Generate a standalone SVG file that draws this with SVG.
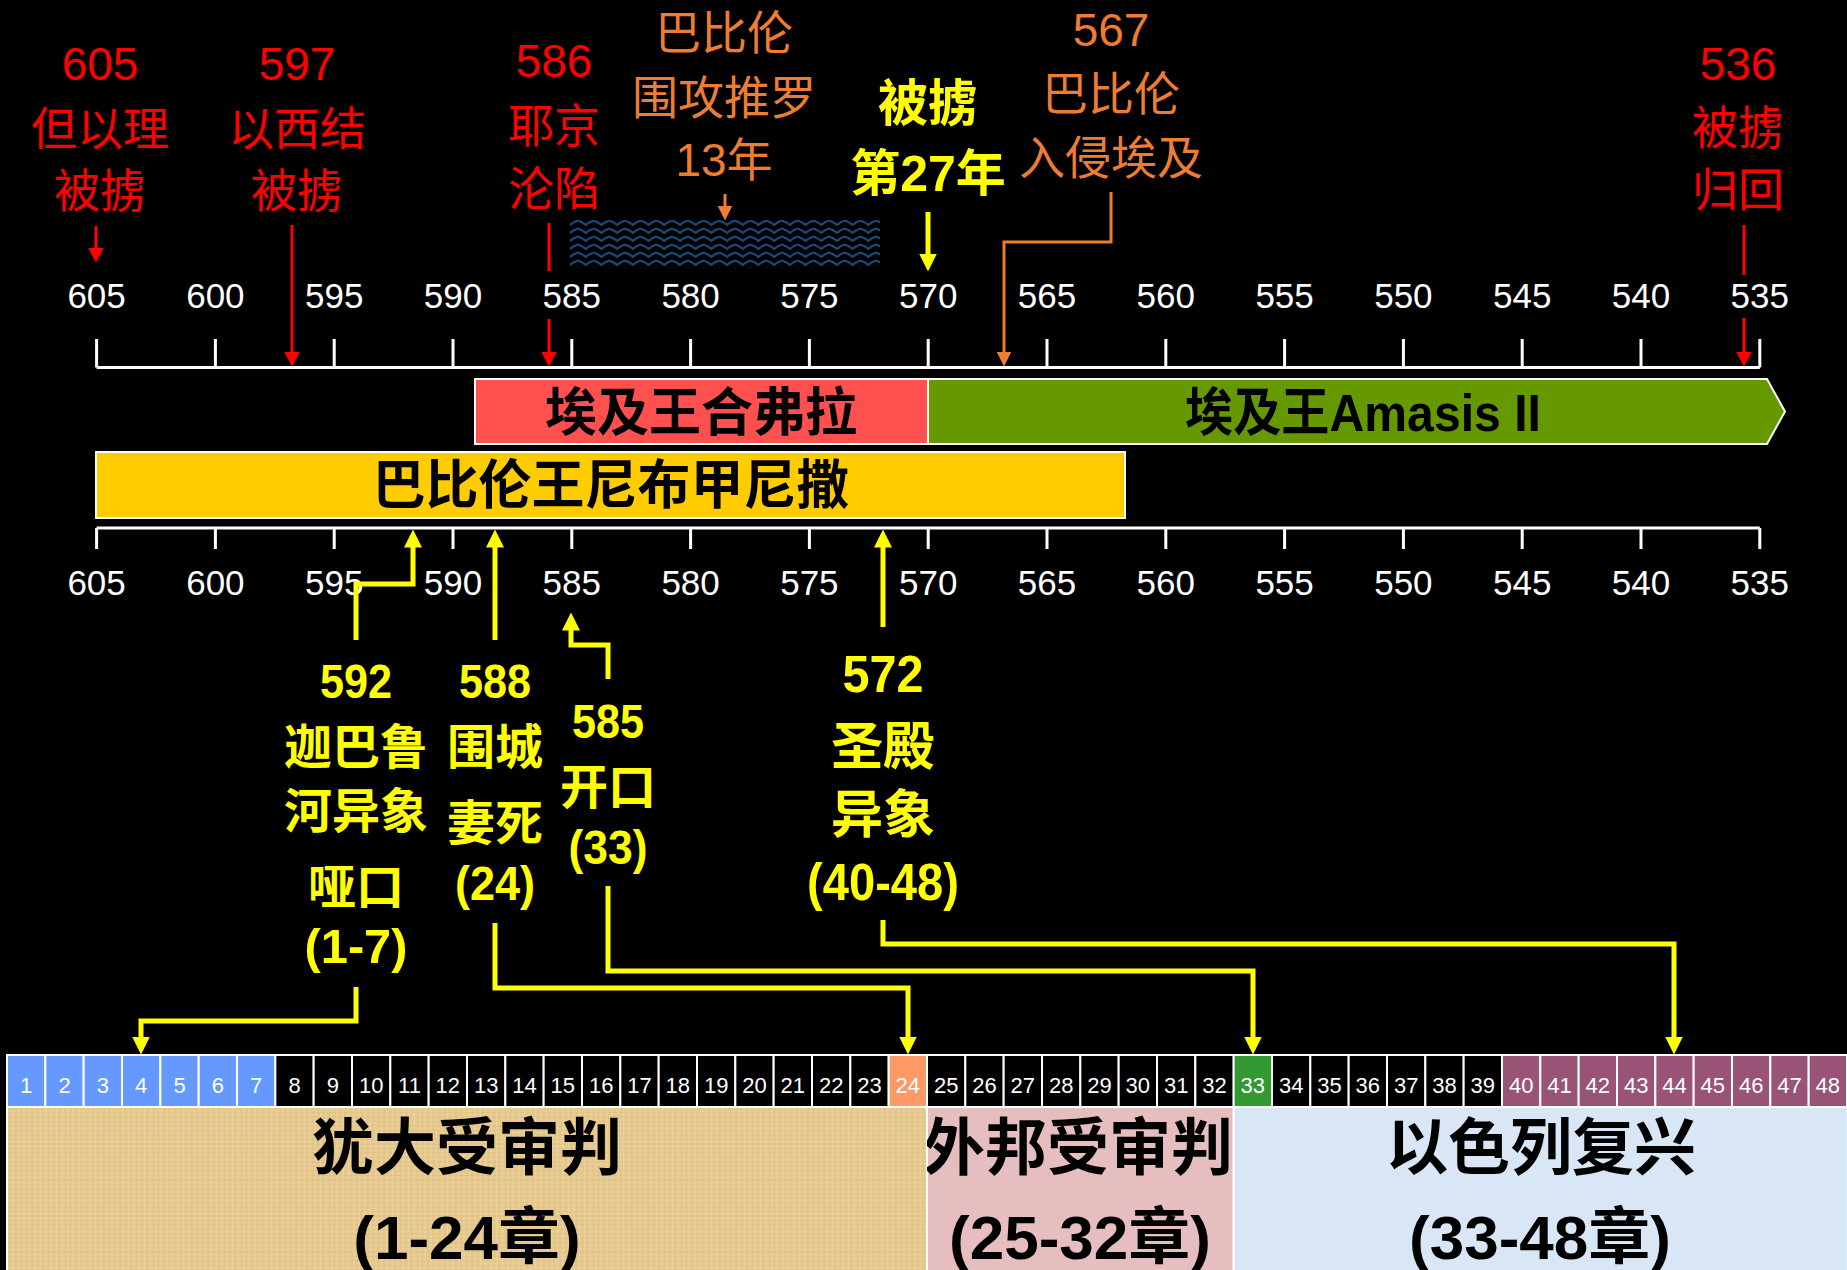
<svg xmlns="http://www.w3.org/2000/svg" width="1847" height="1270" viewBox="0 0 1847 1270">
<style>
text{font-family:"Liberation Sans","Noto Sans CJK SC",sans-serif;text-anchor:middle}
.ax{fill:#fff;font-size:35px}
.red{fill:#FF0000;font-size:46px}
.org{fill:#ED7D31;font-size:46px}
.yb{fill:#FFFF00;font-size:48px;font-weight:bold}
.yb2{fill:#FFFF00;font-size:52px;font-weight:bold}
.bar{fill:#000;font-size:52px;font-weight:bold}
.blk{fill:#000;font-size:62px;font-weight:bold}
.cn{fill:#fff;font-size:22px}
.axl{stroke:#fff;stroke-width:3;fill:none}
.rl{stroke:#FF0000;stroke-width:3;fill:none}
.ol{stroke:#ED7D31;stroke-width:3;fill:none}
.yl{stroke:#FFFF00;stroke-width:5;fill:none}
.bx{stroke:#fff;stroke-width:2}
.cb{fill:#6699FF}.ck{fill:#000}.co{fill:#FF9966}.cg{fill:#339933}.cp{fill:#985377}
</style>
<defs>
<marker id="mr" viewBox="0 0 15 16" refX="0.5" refY="8" markerWidth="15" markerHeight="16" markerUnits="userSpaceOnUse" orient="auto"><path d="M0,0L15,8L0,16z" fill="#FF0000"/></marker>
<marker id="mo" viewBox="0 0 15 15" refX="0.5" refY="7.5" markerWidth="15" markerHeight="15" markerUnits="userSpaceOnUse" orient="auto"><path d="M0,0L15,7.5L0,15z" fill="#ED7D31"/></marker>
<marker id="my" viewBox="0 0 18 18" refX="0.5" refY="9" markerWidth="18" markerHeight="18" markerUnits="userSpaceOnUse" orient="auto"><path d="M0,0L18,9L0,18z" fill="#FFFF00"/></marker>
<pattern id="wave" x="570" y="219" width="15.7" height="8" patternUnits="userSpaceOnUse"><path d="M-1,6.5L3.9,3.2L7.85,1.6L11.8,3.2L16.7,6.5" fill="none" stroke="#1A4A80" stroke-width="2.2"/></pattern>
<pattern id="papyrus" width="11" height="9" patternUnits="userSpaceOnUse"><rect width="11" height="9" fill="#E6C98F"/><path d="M0,1H11M0,5.5H11" stroke="#CFAE70" stroke-opacity="0.3" stroke-width="1"/><path d="M2,0V9M7.5,0V9" stroke="#F1DBA6" stroke-opacity="0.5" stroke-width="1.2"/></pattern>
<clipPath id="clipPink"><rect x="927" y="1107" width="306.7" height="163"/></clipPath>
</defs>
<rect width="1847" height="1270" fill="#000"/>

<g id="top-axis">
<path class="axl" d="M96.6,367.5H1759.8M96.6,339V367.5M215.4,339V367.5M334.2,339V367.5M453,339V367.5M571.8,339V367.5M690.6,339V367.5M809.4,339V367.5M928.2,339V367.5M1047,339V367.5M1165.8,339V367.5M1284.6,339V367.5M1403.4,339V367.5M1522.2,339V367.5M1641,339V367.5M1759.8,339V367.5"/>
<text class="ax" x="96.6" y="308">605</text><text class="ax" x="215.4" y="308">600</text><text class="ax" x="334.2" y="308">595</text><text class="ax" x="453" y="308">590</text><text class="ax" x="571.8" y="308">585</text><text class="ax" x="690.6" y="308">580</text><text class="ax" x="809.4" y="308">575</text><text class="ax" x="928.2" y="308">570</text><text class="ax" x="1047" y="308">565</text><text class="ax" x="1165.8" y="308">560</text><text class="ax" x="1284.6" y="308">555</text><text class="ax" x="1403.4" y="308">550</text><text class="ax" x="1522.2" y="308">545</text><text class="ax" x="1641" y="308">540</text><text class="ax" x="1759.8" y="308">535</text>
</g>

<g id="bottom-axis">
<path class="axl" d="M96.6,528H1759.8M96.6,528V549M215.4,528V549M334.2,528V549M453,528V549M571.8,528V549M690.6,528V549M809.4,528V549M928.2,528V549M1047,528V549M1165.8,528V549M1284.6,528V549M1403.4,528V549M1522.2,528V549M1641,528V549M1759.8,528V549"/>
<text class="ax" x="96.6" y="595">605</text><text class="ax" x="215.4" y="595">600</text><text class="ax" x="334.2" y="595">595</text><text class="ax" x="453" y="595">590</text><text class="ax" x="571.8" y="595">585</text><text class="ax" x="690.6" y="595">580</text><text class="ax" x="809.4" y="595">575</text><text class="ax" x="928.2" y="595">570</text><text class="ax" x="1047" y="595">565</text><text class="ax" x="1165.8" y="595">560</text><text class="ax" x="1284.6" y="595">555</text><text class="ax" x="1403.4" y="595">550</text><text class="ax" x="1522.2" y="595">545</text><text class="ax" x="1641" y="595">540</text><text class="ax" x="1759.8" y="595">535</text>
</g>

<g id="bar-hophra">
<rect x="475" y="379" width="453" height="65" fill="#FF5050" stroke="#fff" stroke-width="2"/>
<text class="bar" x="701" y="431">埃及王合弗拉</text>
</g>
<g id="bar-amasis">
<path d="M928,379H1767L1785,411.5L1767,444H928z" fill="#669900" stroke="#fff" stroke-width="2"/>
<text class="bar" x="1363" y="431" textLength="356" lengthAdjust="spacingAndGlyphs">埃及王Amasis II</text>
</g>
<g id="bar-nebuchadnezzar">
<rect x="96" y="452" width="1029" height="66" fill="#FFCC00" stroke="#fff" stroke-width="2"/>
<text class="bar" x="611" y="504" style="font-size:53px">巴比伦王尼布甲尼撒</text>
</g>

<g id="tyre-siege">
<rect x="570" y="220" width="310" height="48" fill="url(#wave)"/>
</g>

<g id="lbl-605"><text class="red" x="100" y="80">605</text><text class="red" x="100" y="145">但以理</text><text class="red" x="100" y="207">被掳</text></g>
<g id="lbl-597"><text class="red" x="297" y="80">597</text><text class="red" x="297" y="145">以西结</text><text class="red" x="297" y="207">被掳</text></g>
<g id="lbl-586"><text class="red" x="554" y="77">586</text><text class="red" x="554" y="142">耶京</text><text class="red" x="554" y="205">沦陷</text></g>
<g id="lbl-536"><text class="red" x="1738" y="80">536</text><text class="red" x="1738" y="144">被掳</text><text class="red" x="1738" y="206">归回</text></g>
<g id="lbl-tyre"><text class="org" x="724" y="49">巴比伦</text><text class="org" x="724" y="114">围攻推罗</text><text class="org" x="724" y="176">13年</text></g>
<g id="lbl-567"><text class="org" x="1111" y="46">567</text><text class="org" x="1111" y="110">巴比伦</text><text class="org" x="1111" y="174">入侵埃及</text></g>
<g id="lbl-27"><text class="yb2" x="928" y="121" style="font-size:50px">被掳</text><text class="yb2" x="928" y="191" style="font-size:50px">第27年</text></g>

<g id="lbl-592"><text class="yb" x="356" y="698" textLength="72" lengthAdjust="spacingAndGlyphs">592</text><text class="yb" x="356" y="764">迦巴鲁</text><text class="yb" x="356" y="828">河异象</text><text class="yb" x="356" y="904">哑口</text><text class="yb" x="356" y="963" textLength="103" lengthAdjust="spacingAndGlyphs">(1-7)</text></g>
<g id="lbl-588"><text class="yb" x="495" y="698" textLength="72" lengthAdjust="spacingAndGlyphs">588</text><text class="yb" x="495" y="764">围城</text><text class="yb" x="495" y="840">妻死</text><text class="yb" x="495" y="900" textLength="80" lengthAdjust="spacingAndGlyphs">(24)</text></g>
<g id="lbl-585"><text class="yb" x="608" y="738" textLength="72" lengthAdjust="spacingAndGlyphs">585</text><text class="yb" x="608" y="804">开口</text><text class="yb" x="608" y="864" textLength="79" lengthAdjust="spacingAndGlyphs">(33)</text></g>
<g id="lbl-572"><text class="yb2" x="883" y="692" textLength="81" lengthAdjust="spacingAndGlyphs">572</text><text class="yb2" x="883" y="765">圣殿</text><text class="yb2" x="883" y="833">异象</text><text class="yb2" x="883" y="900" textLength="152" lengthAdjust="spacingAndGlyphs">(40-48)</text></g>

<g id="connectors">
<path class="rl" d="M96,226V248" marker-end="url(#mr)"/>
<path class="rl" d="M292,225V352" marker-end="url(#mr)"/>
<path class="rl" d="M549,223V271"/>
<path class="rl" d="M549,319V352" marker-end="url(#mr)"/>
<path class="rl" d="M1744,225V275"/>
<path class="rl" d="M1744,318V352" marker-end="url(#mr)"/>
<path class="ol" d="M725,194V206" marker-end="url(#mo)"/>
<path class="ol" d="M1111,192V242H1004V352" marker-end="url(#mo)"/>
<path class="yl" d="M928,212V254" marker-end="url(#my)"/>
<path class="yl" d="M356,640V584H413V547" marker-end="url(#my)"/>
<path class="yl" d="M495,640V547" marker-end="url(#my)"/>
<path class="yl" d="M608,679V645H571V630" marker-end="url(#my)"/>
<path class="yl" d="M883,627V547" marker-end="url(#my)"/>
<path class="yl" d="M356,987V1021H141V1037" marker-end="url(#my)"/>
<path class="yl" d="M495,923V988H908V1037" marker-end="url(#my)"/>
<path class="yl" d="M608,886V971H1253V1037" marker-end="url(#my)"/>
<path class="yl" d="M883,920V944H1674V1037" marker-end="url(#my)"/>
</g>

<g id="chapter-strip">
<rect class="bx cb" x="7" y="1055" width="38.33" height="52"/><rect class="bx cb" x="45.33" y="1055" width="38.33" height="52"/><rect class="bx cb" x="83.67" y="1055" width="38.33" height="52"/><rect class="bx cb" x="122" y="1055" width="38.33" height="52"/><rect class="bx cb" x="160.33" y="1055" width="38.33" height="52"/><rect class="bx cb" x="198.67" y="1055" width="38.33" height="52"/><rect class="bx cb" x="237" y="1055" width="38.33" height="52"/>
<rect class="bx ck" x="275.33" y="1055" width="38.33" height="52"/><rect class="bx ck" x="313.67" y="1055" width="38.33" height="52"/><rect class="bx ck" x="352" y="1055" width="38.33" height="52"/><rect class="bx ck" x="390.33" y="1055" width="38.33" height="52"/><rect class="bx ck" x="428.67" y="1055" width="38.33" height="52"/><rect class="bx ck" x="467" y="1055" width="38.33" height="52"/><rect class="bx ck" x="505.33" y="1055" width="38.33" height="52"/><rect class="bx ck" x="543.67" y="1055" width="38.33" height="52"/><rect class="bx ck" x="582" y="1055" width="38.33" height="52"/><rect class="bx ck" x="620.33" y="1055" width="38.33" height="52"/><rect class="bx ck" x="658.67" y="1055" width="38.33" height="52"/><rect class="bx ck" x="697" y="1055" width="38.33" height="52"/><rect class="bx ck" x="735.33" y="1055" width="38.33" height="52"/><rect class="bx ck" x="773.67" y="1055" width="38.33" height="52"/><rect class="bx ck" x="812" y="1055" width="38.33" height="52"/><rect class="bx ck" x="850.33" y="1055" width="38.33" height="52"/>
<rect class="bx co" x="888.67" y="1055" width="38.33" height="52"/>
<rect class="bx ck" x="927" y="1055" width="38.33" height="52"/><rect class="bx ck" x="965.33" y="1055" width="38.33" height="52"/><rect class="bx ck" x="1003.67" y="1055" width="38.33" height="52"/><rect class="bx ck" x="1042" y="1055" width="38.33" height="52"/><rect class="bx ck" x="1080.33" y="1055" width="38.33" height="52"/><rect class="bx ck" x="1118.67" y="1055" width="38.33" height="52"/><rect class="bx ck" x="1157" y="1055" width="38.33" height="52"/><rect class="bx ck" x="1195.33" y="1055" width="38.33" height="52"/>
<rect class="bx cg" x="1233.67" y="1055" width="38.33" height="52"/>
<rect class="bx ck" x="1272" y="1055" width="38.33" height="52"/><rect class="bx ck" x="1310.33" y="1055" width="38.33" height="52"/><rect class="bx ck" x="1348.67" y="1055" width="38.33" height="52"/><rect class="bx ck" x="1387" y="1055" width="38.33" height="52"/><rect class="bx ck" x="1425.33" y="1055" width="38.33" height="52"/><rect class="bx ck" x="1463.67" y="1055" width="38.33" height="52"/>
<rect class="bx cp" x="1502" y="1055" width="38.33" height="52"/><rect class="bx cp" x="1540.33" y="1055" width="38.33" height="52"/><rect class="bx cp" x="1578.67" y="1055" width="38.33" height="52"/><rect class="bx cp" x="1617" y="1055" width="38.33" height="52"/><rect class="bx cp" x="1655.33" y="1055" width="38.33" height="52"/><rect class="bx cp" x="1693.67" y="1055" width="38.33" height="52"/><rect class="bx cp" x="1732" y="1055" width="38.33" height="52"/><rect class="bx cp" x="1770.33" y="1055" width="38.33" height="52"/><rect class="bx cp" x="1808.67" y="1055" width="38.33" height="52"/>
<text class="cn" x="26.17" y="1093">1</text><text class="cn" x="64.5" y="1093">2</text><text class="cn" x="102.83" y="1093">3</text><text class="cn" x="141.17" y="1093">4</text><text class="cn" x="179.5" y="1093">5</text><text class="cn" x="217.83" y="1093">6</text><text class="cn" x="256.17" y="1093">7</text><text class="cn" x="294.5" y="1093">8</text><text class="cn" x="332.83" y="1093">9</text><text class="cn" x="371.17" y="1093">10</text><text class="cn" x="409.5" y="1093">11</text><text class="cn" x="447.83" y="1093">12</text><text class="cn" x="486.17" y="1093">13</text><text class="cn" x="524.5" y="1093">14</text><text class="cn" x="562.83" y="1093">15</text><text class="cn" x="601.17" y="1093">16</text><text class="cn" x="639.5" y="1093">17</text><text class="cn" x="677.83" y="1093">18</text><text class="cn" x="716.17" y="1093">19</text><text class="cn" x="754.5" y="1093">20</text><text class="cn" x="792.83" y="1093">21</text><text class="cn" x="831.17" y="1093">22</text><text class="cn" x="869.5" y="1093">23</text><text class="cn" x="907.83" y="1093">24</text>
<text class="cn" x="946.17" y="1093">25</text><text class="cn" x="984.5" y="1093">26</text><text class="cn" x="1022.83" y="1093">27</text><text class="cn" x="1061.17" y="1093">28</text><text class="cn" x="1099.5" y="1093">29</text><text class="cn" x="1137.83" y="1093">30</text><text class="cn" x="1176.17" y="1093">31</text><text class="cn" x="1214.5" y="1093">32</text><text class="cn" x="1252.83" y="1093">33</text><text class="cn" x="1291.17" y="1093">34</text><text class="cn" x="1329.5" y="1093">35</text><text class="cn" x="1367.83" y="1093">36</text><text class="cn" x="1406.17" y="1093">37</text><text class="cn" x="1444.5" y="1093">38</text><text class="cn" x="1482.83" y="1093">39</text><text class="cn" x="1521.17" y="1093">40</text><text class="cn" x="1559.5" y="1093">41</text><text class="cn" x="1597.83" y="1093">42</text><text class="cn" x="1636.17" y="1093">43</text><text class="cn" x="1674.5" y="1093">44</text><text class="cn" x="1712.83" y="1093">45</text><text class="cn" x="1751.17" y="1093">46</text><text class="cn" x="1789.5" y="1093">47</text><text class="cn" x="1827.83" y="1093">48</text>
</g>

<g id="block-judah">
<rect x="7" y="1107" width="920" height="165" fill="url(#papyrus)" stroke="#fff" stroke-width="2"/>
<text class="blk" x="467" y="1170">犹大受审判</text>
<text class="blk" x="467" y="1259">(1-24章)</text>
</g>
<g id="block-nations">
<rect x="927" y="1107" width="306.7" height="165" fill="#E7BEBF" stroke="#fff" stroke-width="2"/>
<g clip-path="url(#clipPink)">
<text class="blk" x="1078" y="1170">外邦受审判</text>
<text class="blk" x="1080" y="1259">(25-32章)</text>
</g>
</g>
<g id="block-israel">
<rect x="1233.7" y="1107" width="614" height="165" fill="#D9E6F5" stroke="#fff" stroke-width="2"/>
<text class="blk" x="1541" y="1170">以色列复兴</text>
<text class="blk" x="1540" y="1259">(33-48章)</text>
</g>
</svg>
